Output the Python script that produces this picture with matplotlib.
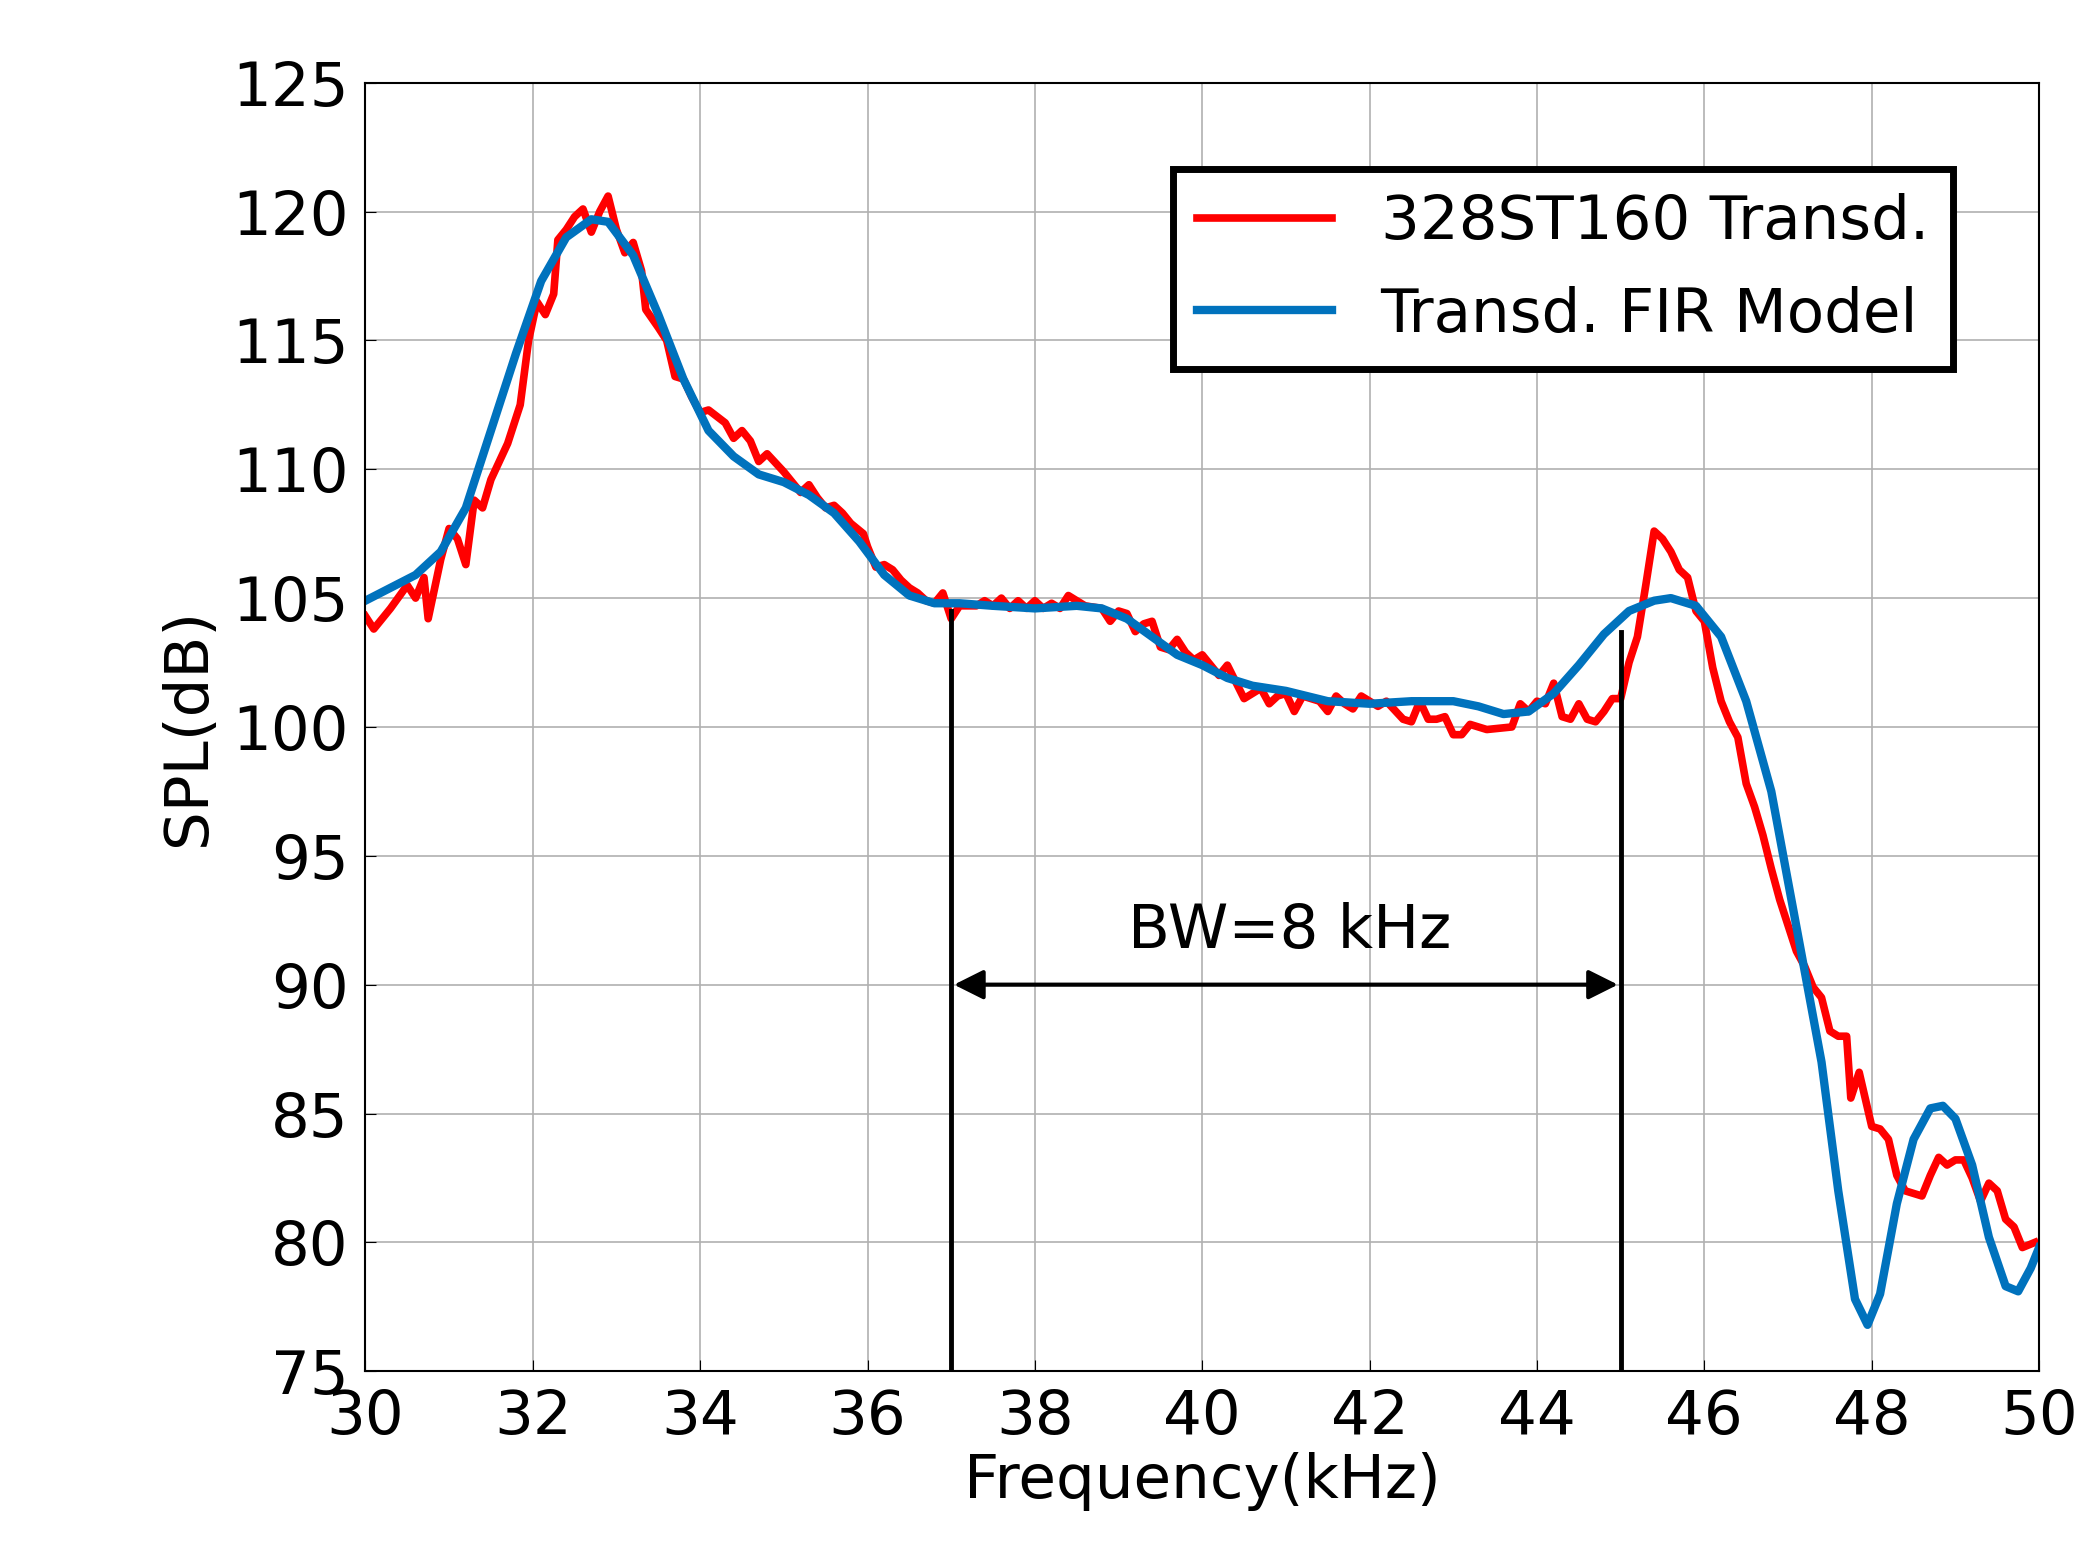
import matplotlib
matplotlib.use("Agg")
import matplotlib.pyplot as plt

red_f = [30.0,30.1,30.3,30.5,30.6,30.7,30.75,30.9,31.0,31.1,31.2,31.3,31.4,31.5,31.7,31.85,31.95,32.05,32.15,32.25,32.3,32.4,32.5,32.6,32.7,32.8,32.9,33.0,33.1,33.2,33.3,33.35,33.5,33.6,33.7,33.8,33.9,34.0,34.1,34.3,34.4,34.5,34.6,34.7,34.8,35.0,35.1,35.2,35.3,35.4,35.5,35.6,35.7,35.8,35.95,36.0,36.1,36.2,36.3,36.4,36.5,36.6,36.7,36.8,36.9,37.0,37.1,37.3,37.4,37.5,37.6,37.7,37.8,37.9,38.0,38.1,38.2,38.3,38.4,38.5,38.6,38.8,38.9,39.0,39.1,39.2,39.3,39.4,39.5,39.6,39.7,39.8,39.9,40.0,40.1,40.2,40.3,40.5,40.6,40.7,40.8,40.9,41.0,41.1,41.2,41.4,41.5,41.6,41.7,41.8,41.9,42.0,42.1,42.2,42.4,42.5,42.6,42.7,42.8,42.9,43.0,43.1,43.2,43.3,43.4,43.7,43.8,43.9,44.0,44.1,44.2,44.3,44.4,44.5,44.6,44.7,44.8,44.9,45.0,45.1,45.2,45.3,45.4,45.5,45.6,45.7,45.8,45.9,46.0,46.1,46.2,46.3,46.4,46.5,46.6,46.7,46.8,46.9,47.0,47.1,47.2,47.3,47.4,47.5,47.6,47.7,47.75,47.85,48.0,48.1,48.2,48.3,48.4,48.5,48.6,48.7,48.8,48.9,49.0,49.1,49.2,49.3,49.4,49.5,49.6,49.7,49.8,49.95]
red_spl = [104.3,103.8,104.6,105.5,105.0,105.8,104.2,106.5,107.7,107.3,106.3,108.8,108.5,109.6,111.0,112.5,115.0,116.5,116.0,116.8,118.9,119.3,119.8,120.1,119.2,120.0,120.6,119.3,118.4,118.8,117.7,116.2,115.5,115.0,113.6,113.5,112.8,112.2,112.3,111.8,111.2,111.5,111.1,110.3,110.6,109.9,109.5,109.1,109.4,108.9,108.5,108.6,108.3,107.9,107.5,107.0,106.2,106.3,106.1,105.7,105.4,105.2,104.9,104.8,105.2,104.2,104.7,104.7,104.9,104.7,105.0,104.6,104.9,104.6,104.9,104.6,104.8,104.6,105.1,104.9,104.7,104.6,104.1,104.5,104.4,103.7,104.0,104.1,103.1,103.0,103.4,102.9,102.6,102.8,102.4,102.0,102.4,101.1,101.3,101.5,100.9,101.2,101.3,100.6,101.2,101.0,100.6,101.2,100.9,100.7,101.2,101.0,100.8,101.0,100.3,100.2,101.0,100.3,100.3,100.4,99.7,99.7,100.1,100.0,99.9,100.0,100.9,100.6,101.0,100.9,101.7,100.4,100.3,100.9,100.3,100.2,100.6,101.1,101.1,102.5,103.5,105.5,107.6,107.3,106.8,106.1,105.8,104.5,104.1,102.3,101.0,100.2,99.6,97.8,96.9,95.8,94.5,93.3,92.3,91.3,90.7,89.9,89.5,88.2,88.0,88.0,85.6,86.6,84.5,84.4,84.0,82.6,82.0,81.9,81.8,82.6,83.3,83.0,83.2,83.2,82.5,81.6,82.3,82.0,80.9,80.6,79.8,80.0]

blue_f = [30.0,30.3,30.6,30.9,31.2,31.5,31.8,32.1,32.4,32.7,32.9,33.2,33.5,33.8,34.1,34.4,34.7,35.0,35.3,35.6,35.9,36.2,36.5,36.8,37.1,37.5,38.0,38.5,38.8,39.1,39.4,39.7,40.0,40.3,40.6,41.0,41.5,42.0,42.5,43.0,43.3,43.6,43.9,44.2,44.5,44.8,45.1,45.4,45.6,45.9,46.2,46.5,46.8,47.0,47.2,47.4,47.6,47.8,47.95,48.1,48.3,48.5,48.7,48.85,49.0,49.2,49.4,49.6,49.75,49.9,50.0]
blue_spl = [104.9,105.4,105.9,106.8,108.5,111.5,114.5,117.3,119.0,119.7,119.6,118.3,116.0,113.5,111.5,110.5,109.8,109.5,109.0,108.3,107.2,105.9,105.1,104.8,104.8,104.7,104.6,104.7,104.6,104.2,103.5,102.8,102.4,101.9,101.6,101.4,101.0,100.9,101.0,101.0,100.8,100.5,100.6,101.3,102.4,103.6,104.5,104.9,105.0,104.7,103.5,101.0,97.5,94.0,90.5,87.0,82.0,77.8,76.8,78.0,81.5,84.0,85.2,85.3,84.8,83.0,80.2,78.3,78.1,79.0,79.8]

bw_lo, bw_hi = 37, 45
bw_top = [104.5, 103.7]
xticks = list(range(30, 51, 2))
yticks = list(range(75, 126, 5))

fig = plt.figure(figsize=(21, 15.6), dpi=100)
ax = fig.add_axes([0.174, 0.121, 0.797, 0.826])
fs = 44
ax.plot(red_f, red_spl, color='#ff0000', lw=5.5, label='328ST160 Transd.')
ax.plot(blue_f, blue_spl, color='#0072bd', lw=6, label='Transd. FIR Model')
ax.plot([bw_lo, bw_lo], [75, bw_top[0]], color='black', lw=3.5)
ax.plot([bw_hi, bw_hi], [75, bw_top[1]], color='black', lw=3.5)
ax.annotate('', xy=(bw_lo, 90), xytext=(bw_hi, 90),
            arrowprops=dict(arrowstyle='<|-|>', color='black', lw=3, mutation_scale=45))
ax.text(41.05, 90.9, 'BW=8 kHz', ha='center', va='bottom', fontsize=fs)
ax.set_xlim(30, 50)
ax.set_ylim(75, 125)
ax.set_xticks(xticks)
ax.set_yticks(yticks)
ax.tick_params(labelsize=fs, direction='in', length=8, pad=12)
ax.grid(True, color='#b0b0b0', lw=1.2)
ax.set_xlabel('Frequency(kHz)', fontsize=fs, labelpad=4)
ax.set_ylabel('SPL(dB)', fontsize=fs, labelpad=10)
for s in ax.spines.values():
    s.set_linewidth(1.5)
leg = ax.legend(loc='upper right', bbox_to_anchor=(0.967, 0.957), fontsize=fs,
                fancybox=False, framealpha=1, edgecolor='black', handlelength=2.2,
                borderpad=0.4, labelspacing=0.55)
leg.get_frame().set_linewidth(5)
fig.savefig('out.png', dpi=100)
